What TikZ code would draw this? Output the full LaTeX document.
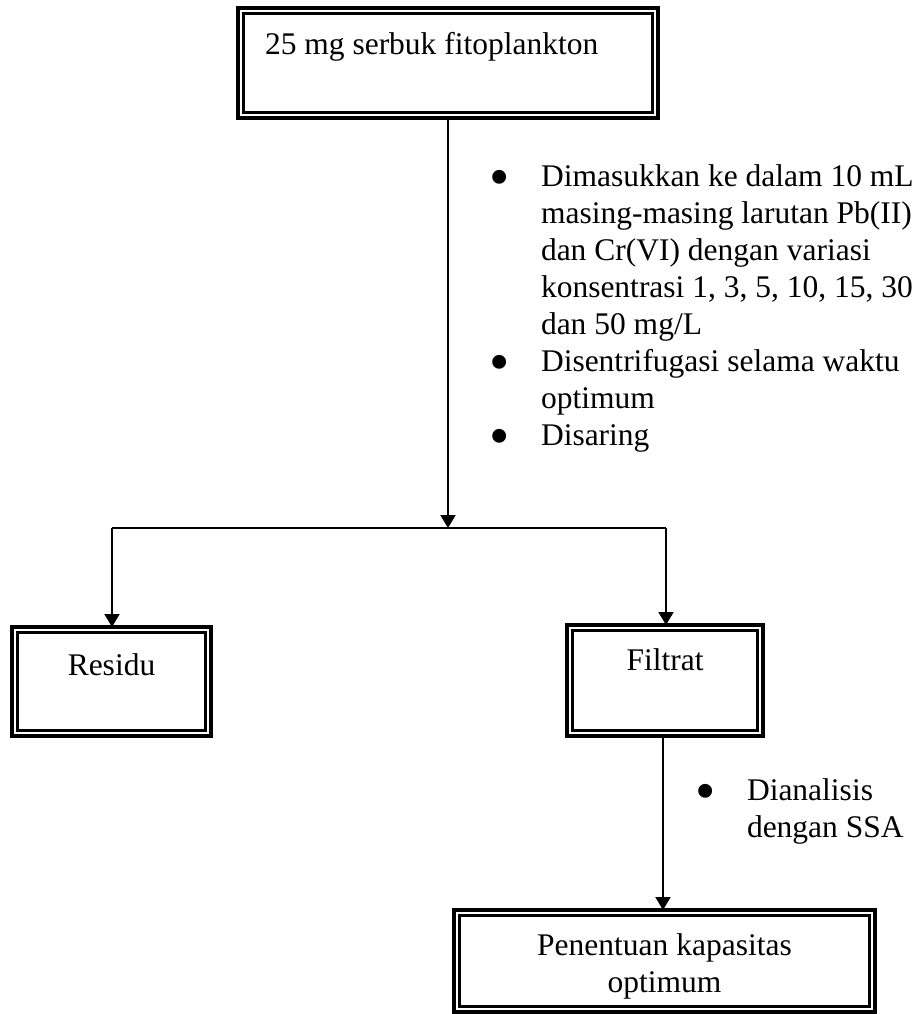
\documentclass[tikz,border=0pt]{standalone}
\usepackage{fontspec}
\setmainfont{Liberation Serif}
\usetikzlibrary{arrows.meta}
\tikzset{
  obox/.style={draw, line width=3.2pt, inner sep=0pt, outer sep=0pt, rectangle},
  ibox/.style={line width=2.3pt},
  conn/.style={line width=2pt},
  arr/.style={line width=2pt, -{Triangle[width=15pt,length=13pt]}},
  txt/.style={inner sep=0pt, outer sep=0pt, font=\fontsize{31.5pt}{37pt}\selectfont},
  bul/.style={inner sep=0pt, outer sep=0pt, font=\fontsize{58pt}{58pt}\selectfont},
}
\newcommand\innerframe[1]{\draw[ibox] ([shift={(5.5pt,-5.5pt)}]#1.north west) rectangle ([shift={(-5.5pt,5.5pt)}]#1.south east);}
\begin{document}
\begin{tikzpicture}[x=1pt,y=-1pt]
\useasboundingbox (0,0) rectangle (923,1014);
% boxes
\node[obox, minimum width=420pt, minimum height=110pt] (top) at (448,63) {};
\innerframe{top}
\node[obox, minimum width=199pt, minimum height=109pt] (residu) at (111.5,681.5) {};
\innerframe{residu}
\node[obox, minimum width=196pt, minimum height=111pt] (filtrat) at (665,680.5) {};
\innerframe{filtrat}
\node[obox, minimum width=421pt, minimum height=102pt] (final) at (664.5,961) {};
\innerframe{final}
% box texts
\node[txt, anchor=base west] (ttop) at (265,55) {25 mg serbuk fitoplankton};
\node[txt, anchor=base] (tres) at (111.5,675) {Residu};
\node[txt, anchor=base] (tfil) at (665,670) {Filtrat};
\node[txt, anchor=base] (tfin1) at (664.5,955) {Penentuan kapasitas};
\node[txt, anchor=base] (tfin2) at (664.5,992) {optimum};
% bullet list 1
\node[bul, anchor=base] (b1) at (500,196) {•};
\node[txt, anchor=base west] (l1) at (541,186) {Dimasukkan ke dalam 10 mL};
\node[txt, anchor=base west] (l2) at (541,223) {masing-masing larutan Pb(II)};
\node[txt, anchor=base west] (l3) at (541,260) {dan Cr(VI) dengan variasi};
\node[txt, anchor=base west] (l4) at (541,297) {konsentrasi 1, 3, 5, 10, 15, 30};
\node[txt, anchor=base west] (l5) at (541,334) {dan 50 mg/L};
\node[bul, anchor=base] (b2) at (500,381) {•};
\node[txt, anchor=base west] (l6) at (541,371) {Disentrifugasi selama waktu};
\node[txt, anchor=base west] (l7) at (541,408) {optimum};
\node[bul, anchor=base] (b3) at (500,455) {•};
\node[txt, anchor=base west] (l8) at (541,445) {Disaring};
% bullet list 2
\node[bul, anchor=base] (b4) at (706,810) {•};
\node[txt, anchor=base west] (l9) at (747,800) {Dianalisis};
\node[txt, anchor=base west] (l10) at (747,837) {dengan SSA};
% connectors
\coordinate (split) at (448,528);
\coordinate (lt) at (112,528);
\coordinate (rt) at (666,528);
\draw[arr] (top.south -| split) -- (split);
\draw[conn] (lt) -- (rt);
\draw[arr] (lt) -- (lt |- residu.north);
\draw[arr] (rt) -- (rt |- filtrat.north);
\draw[arr] (filtrat.south -| 663,0) -- (final.north -| 663,0);
\end{tikzpicture}
\end{document}
